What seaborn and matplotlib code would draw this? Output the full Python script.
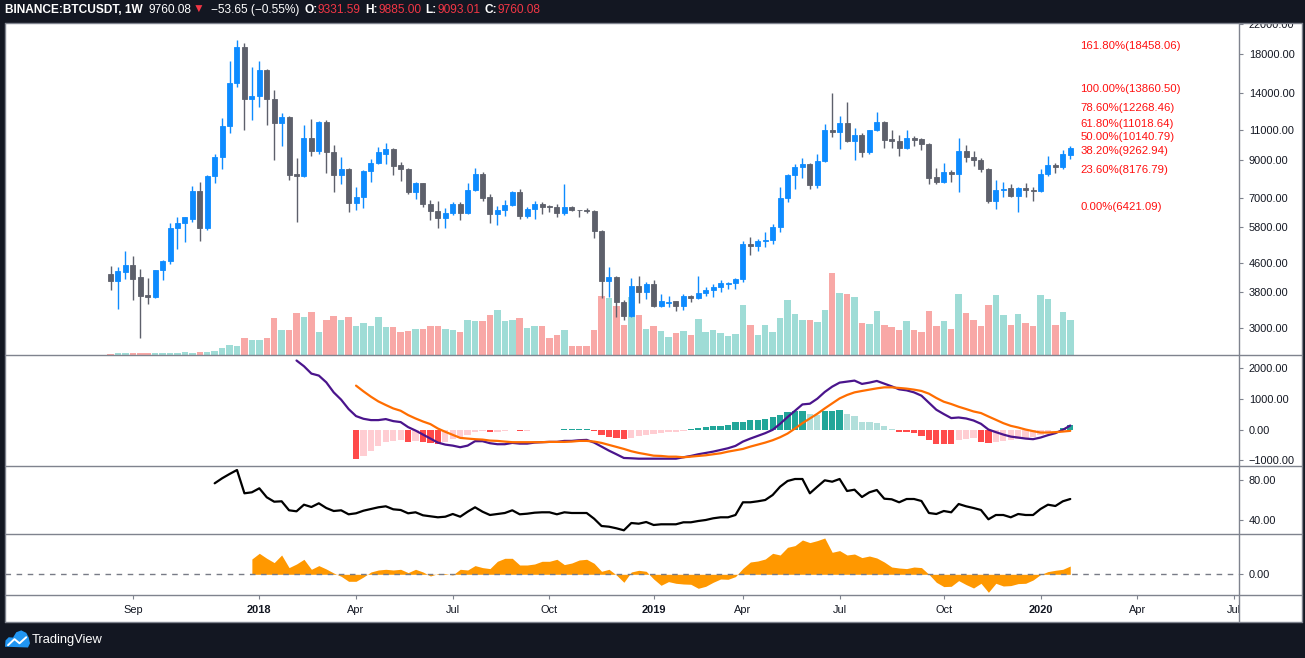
import numpy as np
import pandas as pd
import matplotlib
matplotlib.use("Agg")
import matplotlib.pyplot as plt
import matplotlib.dates as mdates
import matplotlib.ticker as mticker
from matplotlib.lines import Line2D
from matplotlib.patches import Rectangle, Polygon
from matplotlib.transforms import Bbox, TransformedBbox, blended_transform_factory
import seaborn as sns

# ---------------- data ----------------
symbol = "BINANCE:BTCUSDT, 1W"
first_week = "2017-08-14"

opens = [
    4261, 4086, 4310, 4516, 4173, 3709, 3668, 4370, 4636, 5757,
    5958, 6107, 7338, 5768, 8118, 9174, 11244, 14915, 18881, 13451,
    13691, 16240, 13451, 11489, 11930, 8208, 8118, 10393, 9561, 11566,
    9500, 8171, 8481, 6797, 7056, 8369, 8818, 9376, 9669, 8700,
    8498, 7305, 7738, 6751, 6451, 6159, 6354, 6739, 6354, 7387,
    8208, 7056, 6325, 6478, 6695, 7291, 6241, 6520, 6739, 6660,
    6620, 6354, 6607, 6490, 6480, 6433, 5655, 4073, 4173, 3550,
    3238, 3935, 3790, 3987, 3457, 3540, 3566, 3457, 3692, 3643,
    3758, 3832, 3916, 4000, 4013, 4120, 5182, 5140, 5285, 5320,
    5794, 7012, 8153, 8592, 8763, 7648, 8937, 10952, 10830, 11468,
    10190, 10600, 9500, 10952, 11543, 10310, 10180, 9732, 10393, 10330,
    10012, 8040, 7801, 8315, 8220, 9542, 9193, 9013, 8498, 6887,
    7387, 7500, 7119, 7500, 7387, 7330, 8208, 8707, 8620, 9331.59]
highs = [
    4485, 4457, 4950, 4790, 4407, 4154, 4390, 4676, 5949, 6185,
    6200, 7585, 7787, 8171, 9357, 11850, 17229, 19775, 19394, 16560,
    17229, 16347, 14242, 12247, 12008, 9113, 11319, 11773, 11641, 11722,
    9927, 9174, 8536, 7535, 8425, 9054, 9797, 10058, 9752, 8877,
    8560, 7787, 7760, 6918, 6873, 6565, 6829, 6829, 7738, 8536,
    8315, 7197, 6651, 6918, 7338, 7435, 6608, 6873, 6829, 6695,
    6739, 7686, 6651, 6510, 6565, 6500, 5680, 4457, 4200, 3600,
    4147, 4201, 4040, 4100, 3740, 3700, 3580, 3740, 3720, 4201,
    3910, 3987, 4100, 4060, 4147, 5285, 5425, 5380, 5618, 5910,
    7535, 8200, 8763, 9113, 8820, 9357, 11393, 13964, 12008, 13166,
    11098, 10750, 10960, 12322, 11620, 10952, 10600, 10952, 10530, 10393,
    10050, 8536, 8819, 8425, 10393, 9927, 9542, 9113, 8536, 7908,
    7787, 7686, 7535, 7738, 7535, 8481, 9234, 8820, 9605, 9885.00]
lows = [
    3850, 3389, 4127, 3595, 2801, 3504, 3643, 4101, 4554, 5026,
    5262, 5988, 5297, 5691, 7751, 8498, 10760, 14557, 10976, 11722,
    12759, 11339, 9013, 9881, 7908, 5999, 8050, 9253, 9376, 8262,
    7305, 7700, 6409, 6494, 6577, 7801, 8790, 8790, 8171, 7852,
    7210, 6980, 6620, 6078, 5768, 5768, 6300, 6067, 6340, 7360,
    6887, 5949, 5871, 6229, 6651, 6107, 6150, 6107, 6311, 6410,
    6201, 6300, 6433, 6201, 6354, 5401, 3643, 3667, 3217, 3154,
    3217, 3526, 3619, 3435, 3440, 3435, 3346, 3370, 3550, 3620,
    3700, 3667, 3790, 3880, 3880, 4060, 4831, 4950, 5110, 5190,
    5618, 6842, 7451, 8011, 7451, 7500, 8880, 10481, 9687, 10120,
    9013, 9193, 9376, 10900, 9752, 9752, 9253, 9700, 9880, 9630,
    7700, 7700, 7750, 7801, 7305, 8896, 8664, 8333, 6797, 6535,
    7090, 7090, 6409, 7090, 6887, 7300, 8118, 8270, 8498, 9093.01]
closes = [
    4086, 4341, 4516, 4127, 3692, 3668, 4370, 4636, 5757, 5949,
    6185, 7338, 5768, 8118, 9174, 11244, 14915, 18881, 13451, 13691,
    16240, 13451, 11489, 11930, 8171, 8118, 10393, 9561, 11566, 9500,
    8171, 8481, 6797, 7056, 8369, 8818, 9480, 9669, 8664, 8498,
    7305, 7738, 6751, 6451, 6159, 6354, 6739, 6354, 7387, 8208,
    7000, 6325, 6478, 6695, 7291, 6241, 6520, 6739, 6620, 6620,
    6354, 6607, 6478, 6470, 6433, 5655, 4073, 4173, 3550, 3238,
    3935, 3790, 3987, 3457, 3566, 3560, 3457, 3692, 3643, 3758,
    3832, 3916, 4013, 4030, 4120, 5182, 5140, 5285, 5320, 5794,
    7012, 8153, 8592, 8763, 7648, 8937, 10952, 10830, 11468, 10190,
    10600, 9500, 10952, 11543, 10276, 10180, 9732, 10393, 10276, 10012,
    8011, 7801, 8315, 8220, 9542, 9193, 9013, 8498, 6887, 7387,
    7465, 7119, 7500, 7400, 7330, 8208, 8707, 8620, 9357, 9760.08]
volumes = [  # thousand BTC (estimated)
    3, 7, 7, 7, 7, 7, 7, 7, 7, 7,
    12, 7, 12, 12, 17, 32, 47, 42, 82, 72,
    72, 82, 182, 122, 122, 207, 187, 212, 112, 172,
    192, 172, 187, 142, 157, 142, 187, 137, 137, 112,
    117, 127, 127, 142, 142, 126, 125, 115, 175, 170,
    170, 200, 225, 170, 175, 185, 135, 145, 145, 85,
    100, 125, 45, 45, 45, 125, 295, 285, 245, 150,
    290, 200, 130, 145, 120, 90, 110, 120, 100, 180,
    115, 125, 110, 95, 105, 250, 150, 100, 150, 115,
    185, 275, 205, 175, 175, 165, 225, 410, 310, 305,
    290, 160, 155, 220, 150, 140, 125, 170, 125, 115,
    220, 145, 170, 130, 305, 210, 175, 145, 250, 300,
    200, 150, 205, 160, 145, 300, 280, 150, 215, 175]

macd_start = 25
macd_line = [
    2253, 2066, 1826, 1761, 1541, 1213, 974, 669,
    439, 351, 308, 308, 341, 275, 243, 79, -33, -164,
    -295, -426, -492, -525, -577, -525, -380, -380, -446, -479,
    -479, -436, -459, -459, -426, -413, -403, -403, -371, -371,
    -348, -338, -426, -557, -689, -807, -928, -938, -951, -951,
    -951, -951, -951, -951, -905, -862, -807, -764, -721, -666,
    -610, -534, -393, -295, -207, -118, -10, 187, 407, 613,
    820, 843, 1007, 1226, 1400, 1531, 1564, 1597, 1489, 1531,
    1586, 1498, 1410, 1312, 1279, 1213, 1105, 875, 646, 505,
    374, 393, 361, 295, 187, 0, -85, -164, -230, -262,
    -295, -315, -262, -184, -118, -10, 131]
signal_start = 33
signal_line = [
    1433, 1246, 1072, 918, 800, 689, 613, 472, 361, 262,
    177, 33, -75, -174, -272, -295, -315, -328, -361, -371,
    -393, -413, -413, -413, -413, -413, -403, -403, -403, -393,
    -371, -371, -393, -436, -502, -567, -633, -708, -764, -807,
    -853, -862, -885, -885, -905, -885, -862, -841, -807, -775,
    -721, -677, -633, -557, -492, -426, -349, -251, -131, 33,
    208, 361, 515, 689, 853, 1016, 1128, 1213, 1259, 1302,
    1344, 1377, 1377, 1357, 1335, 1302, 1259, 1171, 1030, 908,
    833, 744, 669, 590, 538, 426, 318, 208, 121, 66,
    0, -52, -98, -98, -85, -66, -43]
macd_hist = [
    -973, -874, -710, -546, -415, -383, -350, -415, -383, -415,
    -448, -481, -415, -317, -273, -186, -87, -55, -87, -87,
    -55, -22, -55, -33, -22, -5, -3, 0, 10, 15,
    22, 25, -33, -164, -230, -284, -317, -284, -219, -186,
    -153, -120, -87, -66, -44, 23, 44, 87, 120, 131,
    164, 230, 251, 295, 306, 328, 393, 470, 560, 590,
    600, 492, 480, 600, 620, 625, 492, 426, 262, 230,
    225, 131, 33, -66, -87, -120, -197, -328, -470, -472,
    -475, -328, -295, -284, -393, -426, -403, -372, -350, -320,
    -290, -240, -170, -90, -30, 60, 164]

rsi_start = 14
rsi_vals = [
    76.7, 81.7, 86, 90, 66.7, 67.7,
    71.7, 62.7, 58.3, 58.7, 49.7, 48.7, 55.3, 53, 56.7, 52,
    49, 49.7, 45.7, 46.7, 49.3, 51, 52.7, 53.7, 50.7, 50,
    46.7, 47.7, 44.7, 43.7, 42.7, 43.3, 46, 43.3, 48.3, 52.7,
    48.3, 45, 46, 47, 49.7, 45.7, 46.3, 47.3, 47.7, 47.7,
    45.7, 47.7, 47, 47, 47, 41.3, 34, 33.3, 31.7, 29.7,
    37, 36.3, 38, 35, 35.7, 35.7, 35.7, 37.7, 37.7, 39,
    40, 41.7, 42.7, 42.7, 45, 57.7, 57.7, 58.7, 60, 65,
    73.3, 79, 81, 81, 66.7, 73.3, 79.7, 78.3, 81, 69,
    70.3, 63, 67.7, 70, 61.3, 60.7, 57.7, 61, 61, 59,
    47, 46, 49, 47.7, 56, 53.7, 52, 50, 40.7, 45,
    45, 42.7, 46, 45, 45, 51, 55.3, 54, 58.7, 61]

osc_start = 19
osc_vals = [
    15.3,
    21, 16, 11.7, 19.3, 6.7, 10.3, 15, 5, 8.7, 5.3,
    1.3, -2, -7, -7, -2.7, 2.3, 4.3, 5, 4.3, 5,
    1.7, 5, 2.3, -1.7, 0.7, 0.7, -0.7, 5, 4.3, 8.7,
    6.7, 5.7, 13, 16, 16, 9.3, 9.3, 10.3, 13, 13,
    15, 9.7, 11.3, 14.3, 15, 11, 3, 5, -0.7, -8,
    2.3, 4, 3, -4.7, -11, -7.3, -9, -9.7, -10, -14,
    -12, -8, -4.7, -5, -2.3, 6, 12.3, 13.3, 15.3, 21,
    19.3, 27, 28.7, 34.3, 31.7, 33.7, 36.3, 22, 23.7, 19.3,
    20.3, 16.7, 18.3, 16.3, 12.3, 7.3, 6.3, 5.7, 7.3, 6.7,
    0, -8, -12.3, -12, -6.3, -10.3, -13.7, -9, -18, -9,
    -11.7, -11.3, -9.3, -9, -5.7, -0.3, 2.7, 4, 5, 8.3]

fib_levels = [0.0, 23.6, 38.2, 50.0, 61.8, 78.6, 100.0, 161.8]
fib_prices = [6421.09, 8176.79, 9262.94, 10140.79, 11018.64, 12268.46, 13860.50, 18458.06]

price_ticks = [3000, 3800, 4600, 5800, 7000, 9000, 11000, 14000, 18000, 22000]
macd_ticks = [-1000, 0, 1000, 2000]
rsi_ticks = [40, 80]
osc_ticks = [0]
xtick_dates = ["2017-09-04", "2018-01-01", "2018-04-02", "2018-07-02", "2018-10-01",
               "2019-01-07", "2019-04-01", "2019-07-01", "2019-10-07", "2020-01-06",
               "2020-04-06", "2020-07-06"]
xtick_labels = ["Sep", "2018", "Apr", "Jul", "Oct", "2019", "Apr", "Jul", "Oct", "2020", "Apr", "Jul"]
last_change = -53.65
last_change_pct = -0.55

# ---------------- style ----------------
sns.set_theme(style="white")
plt.rcParams["font.family"] = ["Liberation Sans", "DejaVu Sans"]

BG = "#131722"
FRAME = "#7f838e"
TXT = "#131722"
UP = "#0d8bff"
DOWN = "#5d606b"
VOL_UP = "#9fdcd6"
VOL_DN = "#f8a8a6"
RED = "#f23645"

W, H = 1305, 658
fig = plt.figure(figsize=(W / 100, H / 100), dpi=100, facecolor=BG)


def fx(px):
    return px / W


def fy(py):
    return 1 - py / H


L, R, RR = 4.5, 1239, 1302
TOP, P_BOT, M_BOT, R_BOT, O_BOT, X_BOT = 22.5, 354.5, 466, 534, 595, 622

fig.add_artist(Rectangle((fx(L), fy(X_BOT)), fx(RR) - fx(L), (X_BOT - TOP) / H,
                         transform=fig.transFigure, facecolor="white", edgecolor="none", zorder=-5))


def add_panel(top, bottom):
    ax = fig.add_axes([fx(L), fy(bottom), fx(R) - fx(L), (bottom - top) / H])
    ax.set_facecolor("white")
    for s in ax.spines.values():
        s.set_visible(False)
    return ax


ax_p = add_panel(TOP, P_BOT)
ax_m = add_panel(P_BOT, M_BOT)
ax_r = add_panel(M_BOT, R_BOT)
ax_o = add_panel(R_BOT, O_BOT)

dates = pd.date_range(first_week, periods=len(opens), freq="W-MON")
x = mdates.date2num(dates.to_pydatetime())
x0 = x[0]
xlim = (x0 - 14.25 * 7, x0 + 151.68 * 7)

o = np.array(opens, float)
h = np.array(highs, float)
l = np.array(lows, float)
c = np.array(closes, float)
up = c >= o
ccol = np.where(up, UP, DOWN)

# volume overlay
ax_v = ax_p.twinx()
for s in ax_v.spines.values():
    s.set_visible(False)
ax_v.set_zorder(ax_p.get_zorder() - 1)
ax_p.patch.set_visible(False)
ax_v.patch.set_visible(True)
ax_v.patch.set_facecolor("white")
ax_v.bar(x, volumes, width=6.1, color=np.where(up, VOL_UP, VOL_DN), linewidth=0)
ax_v.set_ylim(0, 1660)
ax_v.set_yticks([])
ax_v.tick_params(right=False, labelright=False, left=False, labelleft=False)

# candles
ax_p.set_yscale("log")
ax_p.vlines(x, l, h, colors=ccol, lw=1.0, zorder=3)
ax_p.bar(x, np.abs(c - o), bottom=np.minimum(o, c), width=4.7, color=ccol,
         edgecolor=ccol, linewidth=0.6, zorder=4)
ax_p.set_ylim(2518, 22180)
ax_p.set_xlim(*xlim)
ax_p.set_yticks(price_ticks, labels=[f"{v:.2f}" for v in price_ticks])
ax_p.yaxis.set_minor_locator(mticker.NullLocator())

# fib labels
tr = blended_transform_factory(ax_p.transAxes, ax_p.transData)
for lvl, pr in zip(fib_levels, fib_prices):
    ax_p.text(0.8715, pr, f"{lvl:.2f}%({pr:.2f})", transform=tr, color="#ff1010",
              fontsize=8.2, ha="left", va="bottom", zorder=6)

# MACD
xm = x[macd_start:]
xs = x[signal_start:]
hist = np.array(macd_hist, float)
hcols = []
for i, v in enumerate(hist):
    p = hist[i - 1] if i > 0 else 0.0
    if v >= 0:
        hcols.append("#22a699" if v > p else "#b2dfdb")
    else:
        hcols.append("#ffcdd2" if v >= p else "#ff4a4a")
ax_m.bar(xs, hist, width=5.9, color=hcols, linewidth=0, zorder=2)
sns.lineplot(x=xm, y=macd_line, ax=ax_m, color="#4a148c", lw=1.6, errorbar=None, legend=False, zorder=3)
sns.lineplot(x=xs, y=signal_line, ax=ax_m, color="#ff6d00", lw=1.6, errorbar=None, legend=False, zorder=4)
ax_m.set_ylim(-1190, 2449)
ax_m.set_xlim(*xlim)
ax_m.set_yticks(macd_ticks, labels=[(f"{v:.2f}" if v >= 0 else "\u2212" + f"{abs(v):.2f}") for v in macd_ticks])

# RSI
xr = x[rsi_start:]
sns.lineplot(x=xr, y=rsi_vals, ax=ax_r, color="black", lw=1.6, errorbar=None, legend=False)
ax_r.set_ylim(26, 94)
ax_r.set_xlim(*xlim)
ax_r.set_yticks(rsi_ticks, labels=[f"{v:.2f}" for v in rsi_ticks])

# Oscillator area
xo = x[osc_start:]
ax_o.fill_between(xo, 0, osc_vals, color="#ff9800", linewidth=0, zorder=2)
ax_o.axhline(0, color="#787b86", lw=1, ls=(0, (4, 4)), zorder=3)
ax_o.set_ylim(-20.7, 40.3)
ax_o.set_xlim(*xlim)
ax_o.set_yticks(osc_ticks, labels=[f"{v:.2f}" for v in osc_ticks])

for ax in (ax_p, ax_m, ax_r, ax_o):
    ax.set_ylabel("")
    ax.set_xlabel("")
    ax.grid(False)
    ax.yaxis.tick_right()
    ax.tick_params(axis="y", which="major", right=True, left=False, labelright=True, labelleft=False,
                   direction="out", length=3, width=0.8, color=FRAME, pad=4,
                   labelsize=7.9, labelcolor=TXT)
    ax.tick_params(axis="y", which="minor", right=False, left=False)
for ax in (ax_p, ax_m, ax_r):
    ax.set_xticks([])

tick_x = mdates.date2num(pd.to_datetime(xtick_dates).to_pydatetime())
ax_o.set_xticks(tick_x, labels=xtick_labels)
ax_o.tick_params(axis="x", bottom=True, top=False, direction="out", length=3, width=0.8,
                 color=FRAME, pad=4, labelsize=7.9, labelcolor=TXT)

clip_x = TransformedBbox(Bbox([[fx(0), fy(H)], [fx(R), fy(0)]]), fig.transFigure)
for t, lab in zip(ax_o.get_xticklabels(), xtick_labels):
    if lab.isdigit():
        t.set_fontweight("bold")
    t.set_clip_box(clip_x)
    t.set_clip_on(True)
clip_y = TransformedBbox(Bbox([[fx(0), fy(X_BOT)], [fx(W), fy(TOP)]]), fig.transFigure)
for t in ax_p.get_yticklabels():
    t.set_clip_box(clip_y)
    t.set_clip_on(True)

# frame lines
def fline(xs_, ys_):
    fig.add_artist(Line2D([fx(v) for v in xs_], [fy(v) for v in ys_], color=FRAME, lw=1.0,
                          transform=fig.transFigure, zorder=10))


for yy in (TOP, P_BOT, M_BOT, R_BOT, O_BOT, X_BOT):
    fline([L, RR], [yy, yy])
for xx in (L, R, RR):
    fline([xx, xx], [TOP, X_BOT])

# header
hdr_y = fy(10)
t0 = fig.text(fx(5), hdr_y, symbol, color="white", fontweight="bold", fontsize=8.6, va="center", ha="left")
parts = [
    (f"{closes[-1]:.2f}", "white", "normal", 4.3),
    ("\u25bc", RED, "normal", 0.6),
    (f"\u2212{abs(last_change):.2f} (\u2212{abs(last_change_pct):.2f}%)", "white", "normal", 4.6),
    ("O:", "white", "bold", 3.6), (f"{opens[-1]:.2f}", RED, "normal", 0.4),
    ("H:", "white", "bold", 3.0), (f"{highs[-1]:.2f}", RED, "normal", 0.4),
    ("L:", "white", "bold", 3.0), (f"{lows[-1]:.2f}", RED, "normal", 0.4),
    ("C:", "white", "bold", 3.0), (f"{closes[-1]:.2f}", RED, "normal", 0.4),
]
prev = t0
for txt, col, wt, gap in parts:
    prev = ax_p.annotate(txt, xy=(1, 0.5), xycoords=prev, xytext=(gap, 0), textcoords="offset points",
                         va="center", ha="left", color=col, fontweight=wt, fontsize=8.6,
                         annotation_clip=False)

# TradingView logo
ax_l = fig.add_axes([fx(5), fy(649), 25 / W, 19 / H])
ax_l.set_axis_off()
ax_l.set_xlim(0, 1)
ax_l.set_ylim(0, 1)
ax_l.add_patch(Polygon([(0.0, 0.12), (0.02, 0.45), (0.15, 0.62), (0.32, 0.6), (0.45, 0.88),
                        (0.65, 0.98), (0.85, 0.85), (0.95, 0.6), (1.0, 0.3), (0.92, 0.08)],
                       closed=True, facecolor="#2196f3", edgecolor="none"))
ax_l.plot([0.12, 0.38, 0.58, 0.85], [0.2, 0.52, 0.3, 0.62], color="white", lw=1.4)
fig.text(fx(32), fy(640), "TradingView", color="white", fontsize=9.3, va="center", ha="left")

fig.savefig("out.png", dpi=100, facecolor=BG)
